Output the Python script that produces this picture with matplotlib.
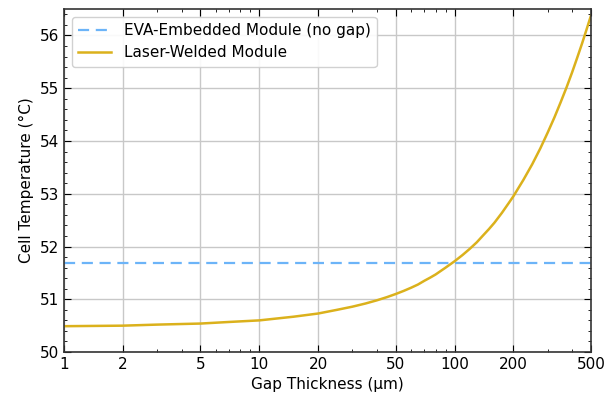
import matplotlib
matplotlib.use("Agg")
import matplotlib.pyplot as plt
import numpy as np

gap_um = [1, 2, 3, 5, 7, 10, 15, 20, 25, 30, 35, 40, 45, 50, 55, 60, 65, 70, 75, 80,
          90, 100, 110, 120, 130, 140, 150, 160, 175, 190, 200, 225, 250, 275, 300,
          325, 350, 375, 400, 425, 450, 475, 500]
laser_temp = [50.49, 50.50, 50.52, 50.54, 50.57, 50.60, 50.67, 50.73, 50.80, 50.86,
              50.92, 50.98, 51.04, 51.10, 51.16, 51.22, 51.28, 51.35, 51.41, 51.47,
              51.60, 51.72, 51.84, 51.96, 52.08, 52.21, 52.33, 52.45, 52.64, 52.83,
              52.95, 53.26, 53.56, 53.86, 54.16, 54.45, 54.74, 55.02, 55.30, 55.58,
              55.85, 56.12, 56.38]
eva_temp = 51.68
xticks = [1, 2, 5, 10, 20, 50, 100, 200, 500]

fig = plt.figure(figsize=(6.15, 3.96), dpi=100)
ax = fig.add_axes([0.104, 0.111, 0.857, 0.866])

ax.axhline(eva_temp, color='#6cb4f8', linestyle=(0, (5, 3)), linewidth=1.6,
           label='EVA-Embedded Module (no gap)')
ax.plot(gap_um, laser_temp, color='#dbb11c', linewidth=1.8, label='Laser-Welded Module')

ax.set_xscale('log')
ax.set_xlim(1, 500)
ax.set_ylim(50, 56.5)
ax.set_xticks(xticks)
ax.set_xticklabels([str(t) for t in xticks])
ax.set_yticks([50, 51, 52, 53, 54, 55, 56])
ax.yaxis.set_minor_locator(matplotlib.ticker.MultipleLocator(0.2))
ax.tick_params(which='both', direction='in', top=True, right=True, labelsize=11)
ax.tick_params(which='major', length=5)
ax.tick_params(which='minor', length=2.5)
ax.grid(True, which='major', color='#c8c8c8', linewidth=1.0)
ax.set_axisbelow(True)
for s in ax.spines.values():
    s.set_linewidth(1.2)
    s.set_color('#333333')

ax.set_xlabel('Gap Thickness (μm)', fontsize=11)
ax.set_ylabel('Cell Temperature (°C)', fontsize=11)
ax.legend(loc='upper left', fontsize=11, framealpha=0.9, edgecolor='#cccccc',
          handlelength=2.2)

fig.savefig('out.png', dpi=100)
